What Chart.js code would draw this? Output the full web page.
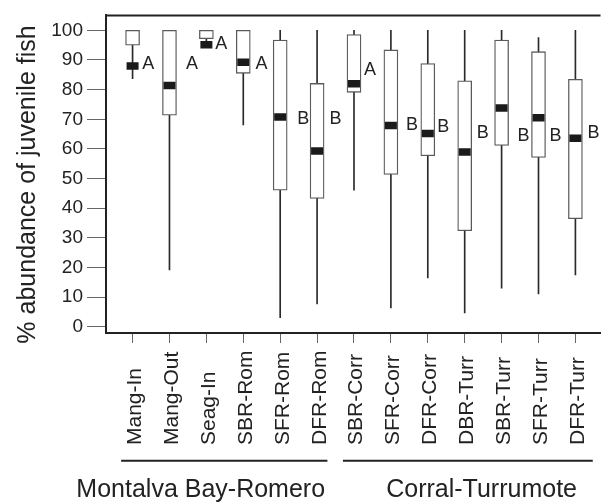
<!DOCTYPE html>
<html>
<head>
<meta charset="utf-8">
<script src="https://cdn.jsdelivr.net/npm/chart.js@4"></script>
<style>
  html, body { margin: 0; padding: 0; background: #fff; }
  #wrap { width: 614px; height: 504px; position: relative; }
</style>
</head>
<body>
<div id="wrap"><canvas id="c" width="614" height="504"></canvas></div>
<script>
// ---- data ----
const categories = ['Mang-In','Mang-Out','Seag-In','SBR-Rom','SFR-Rom','DFR-Rom','SBR-Corr','SFR-Corr','DFR-Corr','DBR-Turr','SBR-Turr','SFR-Turr','DFR-Turr'];
const whiskerMin = [83.7, 19.2, 94.5, 68.1, 3.1, 7.7, 46.1, 6.4, 16.5, 4.7, 13.0, 11.1, 17.5];
const q1         = [95.0, 71.4, 97.2, 85.5, 46.1, 43.3, 79.1, 51.4, 57.7, 32.4, 61.2, 57.1, 36.5];
const median     = [88.0, 81.4, 95.1, 89.2, 70.8, 59.3, 82.0, 67.9, 65.2, 59.0, 73.8, 70.5, 63.6];
const q3         = [100, 100, 100, 100, 96.7, 82.1, 98.6, 93.4, 88.8, 83.0, 96.7, 92.8, 83.5];
const whiskerMax = [100, 100, 100, 100, 100, 100, 100, 100, 100, 100, 100, 97.6, 100];
const letters    = ['A','A','A','A','B','B','A','B','B','B','B','B','B'];
const letterY    = [89.0, 89.0, 96.0, 89.0, 70.7, 70.7, 87.0, 68.7, 67.9, 65.9, 64.8, 64.8, 65.9];
const yTicks     = [0,10,20,30,40,50,60,70,80,90,100];
const groupNames = ['Montalva Bay-Romero', 'Corral-Turrumote'];
const groupFirst = [1, 7];   // first category (1-based) in each group
const groupLast  = [6, 13];  // last category (1-based) in each group

// ---- layout / style ----
const FONT = "'Liberation Sans', Arial, Helvetica, sans-serif";
const TEXT = '#222';
const letterNudge = [15.7, 22.5, 15, 18.3, 23, 18.5, 16, 21, 15.5, 18, 22, 17, 18]; // px right of box
const groupLineExt = [[-0.31, 0.28], [-0.30, 0.47]]; // category units beyond first/last
const groupTextCenter = [200.7, 481.6];

const xs = categories.map((_, i) => i + 1);

const annot = {
  id: 'annot',
  afterDraw(chart) {
    const ctx = chart.ctx, xS = chart.scales.x, yS = chart.scales.y, a = chart.chartArea;
    ctx.save();
    // top frame line
    ctx.strokeStyle = '#222'; ctx.lineWidth = 2;
    ctx.beginPath(); ctx.moveTo(a.left - 1, a.top); ctx.lineTo(a.right, a.top); ctx.stroke();
    // letters
    ctx.fillStyle = TEXT;
    ctx.font = '18px ' + FONT;
    ctx.textAlign = 'center'; ctx.textBaseline = 'alphabetic';
    letters.forEach((L, i) => {
      ctx.fillText(L, xS.getPixelForValue(xs[i]) + letterNudge[i], yS.getPixelForValue(letterY[i]) + 6.4);
    });
    // category labels (rotated, bottom aligned)
    ctx.font = '21px ' + FONT;
    categories.forEach((c, i) => {
      ctx.save();
      ctx.translate(xS.getPixelForValue(xs[i]) + 8.5, 445);
      ctx.rotate(-Math.PI / 2);
      ctx.textAlign = 'left'; ctx.textBaseline = 'alphabetic';
      ctx.fillText(c, 0, 0);
      ctx.restore();
    });
    // group lines and names
    ctx.strokeStyle = '#222'; ctx.lineWidth = 2;
    groupNames.forEach((g, k) => {
      const x0 = xS.getPixelForValue(groupFirst[k] + groupLineExt[k][0]);
      const x1 = xS.getPixelForValue(groupLast[k] + groupLineExt[k][1]);
      ctx.beginPath(); ctx.moveTo(x0, 460.7); ctx.lineTo(x1, 460.7); ctx.stroke();
      ctx.font = '25px ' + FONT;
      ctx.textAlign = 'center'; ctx.textBaseline = 'alphabetic';
      ctx.fillText(g, groupTextCenter[k], 497);
    });
    // y axis title
    ctx.save();
    ctx.translate(35, 184.5);
    ctx.rotate(-Math.PI / 2);
    ctx.font = '25px ' + FONT;
    ctx.textAlign = 'center'; ctx.textBaseline = 'alphabetic';
    ctx.fillText('% abundance of juvenile fish', 0, 0);
    ctx.restore();
    ctx.restore();
  }
};

new Chart(document.getElementById('c'), {
  type: 'bar',
  data: {
    datasets: [
      {
        type: 'line', label: 'median', order: 1,
        data: xs.map((x, i) => ({ x, y: median[i] })),
        showLine: false, pointStyle: 'line', pointRadius: 6, pointHoverRadius: 6,
        borderColor: '#1a1a1a', pointBorderWidth: 7.5, borderWidth: 7.5
      },
      {
        type: 'bar', label: 'box', order: 2, grouped: false,
        data: xs.map((x, i) => ({ x, y: [q1[i], q3[i]] })),
        backgroundColor: '#ffffff', borderColor: '#5a5a5a', borderWidth: 1.3,
        borderSkipped: false, barThickness: 14
      },
      {
        type: 'bar', label: 'whisker', order: 3, grouped: false,
        data: xs.map((x, i) => ({ x, y: [whiskerMin[i], whiskerMax[i]] })),
        backgroundColor: '#2a2a2a', borderWidth: 0, barThickness: 1
      }
    ]
  },
  options: {
    responsive: false, animation: false,
    layout: { padding: { top: 8, right: 0, left: 0, bottom: 0 } },
    plugins: { legend: { display: false }, tooltip: { enabled: false } },
    scales: {
      x: {
        type: 'linear', min: 0.28, max: 13.68, offset: false,
        afterBuildTicks: s => { s.ticks = xs.map(v => ({ value: v })); },
        afterFit: s => { s.height = 171; },
        ticks: { display: false },
        grid: { offset: false, drawOnChartArea: false, tickLength: 10, color: '#666', lineWidth: 1 },
        border: { display: true, color: '#222', width: 2 }
      },
      y: {
        min: -2.08, max: 105.04,
        afterBuildTicks: s => { s.ticks = yTicks.map(v => ({ value: v })); },
        afterFit: s => { s.width = 106; },
        ticks: { font: { family: FONT, size: 19 }, color: TEXT, padding: 4 },
        grid: { drawOnChartArea: false, tickLength: 19, color: '#666', lineWidth: 1 },
        border: { display: true, color: '#222', width: 2 }
      }
    }
  },
  plugins: [annot]
});
</script>
</body>
</html>
